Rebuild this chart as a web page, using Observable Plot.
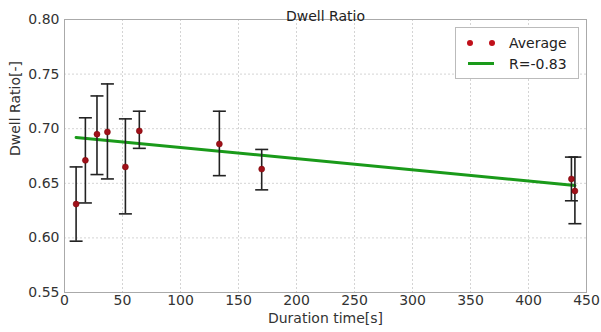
<!DOCTYPE html>
<html>
<head>
<meta charset="utf-8">
<script src="https://cdn.jsdelivr.net/npm/d3@7"></script>
<script src="https://cdn.jsdelivr.net/npm/@observablehq/plot@0.6"></script>
<style>
  body { margin: 0; background: #fff; }
  #wrap { position: relative; width: 601px; height: 332px; font-family: "DejaVu Sans", sans-serif; }
  #legend { position: absolute; left: 455px; top: 27px; width: 124px; height: 52px; border: 1px solid #bbb; background: #fff; box-sizing: border-box; font-size: 14px; color: #222; }
  .row { position: absolute; left: 0; height: 20px; display: flex; align-items: center; }
  .dot { position: absolute; width: 6px; height: 6px; border-radius: 50%; background: #c0101a; }
</style>
</head>
<body>
<div id="wrap"></div>
<script>
const durations = [10, 18, 28, 37, 52.5, 64.5, 133.5, 170, 437, 440];
const ratios    = [0.631, 0.671, 0.695, 0.697, 0.665, 0.698, 0.686, 0.663, 0.654, 0.643];
const lows      = [0.597, 0.632, 0.658, 0.654, 0.622, 0.682, 0.657, 0.644, 0.634, 0.613];
const highs     = [0.665, 0.710, 0.730, 0.741, 0.709, 0.716, 0.716, 0.681, 0.674, 0.674];
const fitX = [10, 440];
const fitY = [0.692, 0.648];
const xTicks = [0, 50, 100, 150, 200, 250, 300, 350, 400, 450];
const yTicks = [0.55, 0.60, 0.65, 0.70, 0.75, 0.80];
const title = "Dwell Ratio";
const xLabel = "Duration time[s]";
const yLabel = "Dwell Ratio[-]";
const legendLabels = ["Average", "R=-0.83"];

const pts = durations.map((x, i) => ({x, y: ratios[i], lo: lows[i], hi: highs[i]}));
const fit = fitX.map((x, i) => ({x, y: fitY[i]}));
const cap = { draw(ctx) { ctx.moveTo(-6.5, 0); ctx.lineTo(6.5, 0); } };

const chart = Plot.plot({
  width: 601, height: 332,
  marginLeft: 64, marginRight: 15, marginTop: 19, marginBottom: 40,
  style: { fontFamily: "DejaVu Sans, sans-serif", fontSize: "14px", color: "#333", background: "#fff" },
  x: { domain: [0, 450], ticks: xTicks, tickSize: 0, tickPadding: 4, label: null },
  y: { domain: [0.55, 0.80], ticks: yTicks, tickSize: 0, tickPadding: 4, tickFormat: d3.format(".2f"), label: null },
  marks: [
    Plot.gridX(xTicks, { stroke: "#d4d4d4", strokeOpacity: 1, strokeDasharray: "2,2" }),
    Plot.gridY(yTicks, { stroke: "#d4d4d4", strokeOpacity: 1, strokeDasharray: "2,2" }),
    Plot.frame({ stroke: "#aaa" }),
    Plot.axisX({ ticks: xTicks, tickSize: 0, tickPadding: 3, fontSize: 14, fill: "#333" }),
    Plot.axisY({ ticks: yTicks, tickSize: 0, tickPadding: 5, tickFormat: d3.format(".2f"), fontSize: 14, fill: "#333" }),
    Plot.text([xLabel], { frameAnchor: "bottom", dy: 30, fontSize: 14, fill: "#333" }),
    Plot.text([yLabel], { frameAnchor: "left", dx: -49, rotate: -90, fontSize: 14, fill: "#333" }),
    Plot.text([title], { frameAnchor: "top", dy: -8, fontSize: 14, fill: "#222" }),
    Plot.line(fit, { x: "x", y: "y", stroke: "#1a9a1a", strokeWidth: 3 }),
    Plot.ruleX(pts, { x: "x", y1: "lo", y2: "hi", stroke: "#222", strokeWidth: 1.6 }),
    Plot.dot(pts, { x: "x", y: "lo", symbol: cap, stroke: "#222", strokeWidth: 1.6, r: 6 }),
    Plot.dot(pts, { x: "x", y: "hi", symbol: cap, stroke: "#222", strokeWidth: 1.6, r: 6 }),
    Plot.dot(pts, { x: "x", y: "y", r: 3, fill: "#a0101a", stroke: "#700", strokeWidth: 0.5 })
  ]
});

const wrap = document.getElementById("wrap");
wrap.appendChild(chart);
const legend = document.createElement("div");
legend.id = "legend";
legend.innerHTML = `
  <div class="dot" style="left:11px;top:12px"></div>
  <div class="dot" style="left:33px;top:12px"></div>
  <div class="row" style="top:5px;left:53px">${legendLabels[0]}</div>
  <div style="position:absolute;left:12px;top:34px;width:26px;height:3px;background:#1a9a1a"></div>
  <div class="row" style="top:26px;left:53px">${legendLabels[1]}</div>`;
wrap.appendChild(legend);
</script>
</body>
</html>
